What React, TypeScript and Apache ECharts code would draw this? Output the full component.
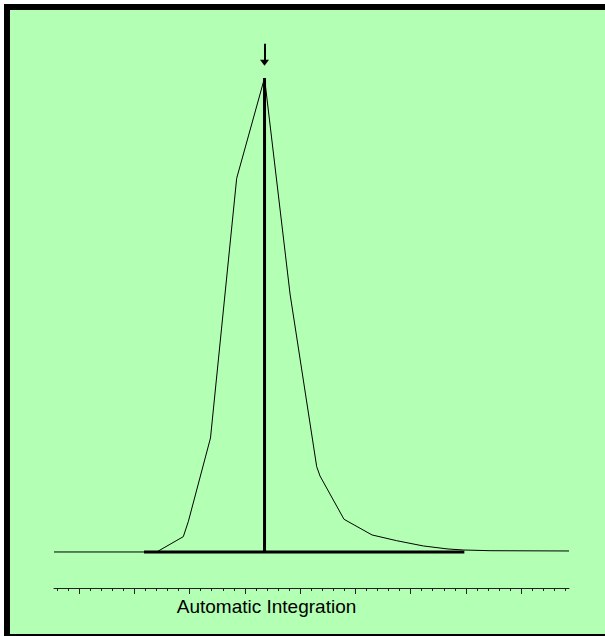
import React, { useEffect, useRef } from "react";
import * as echarts from "echarts";

// x in minor-tick units, y in detector signal units (baseline = 0, apex = 100)
const X_MIN = -0.27;
const X_MAX = 46.33;
const Y_MIN = -7.6;
const Y_MAX = 110;

const signalX = [-0.27, 9.02, 11.43, 11.88, 13.89, 16.26, 18.78, 21.09, 23.5, 23.8, 25.97, 28.51, 30.74, 33.15, 35.38, 36.77, 39.19, 46.33];
const signalY = [0, 0, 3.23, 6.39, 24.05, 78.84, 100, 54.43, 18.0, 16.03, 6.9, 3.59, 2.38, 1.27, 0.63, 0.42, 0.27, 0.21];

const baselineX = [7.87, 36.86];
const baselineY = [0, 0];

const peakX = 18.78;
const peakY = [0, 100];
const arrowY = [107.2, 103.2];

const MINOR_TICK_COUNT = 46;
const MAJOR_TICK_COUNT = 8;

const label = "Automatic Integration";

export default function App() {
  const ref = useRef<HTMLDivElement>(null);

  useEffect(() => {
    if (!ref.current) return;
    const chart = echarts.init(ref.current, undefined, { renderer: "svg" });
    const ink = "#000";
    const axisInk = "#222";

    chart.setOption({
      animation: false,
      backgroundColor: "#ffffff",
      graphic: [
        { type: "rect", z: -10, silent: true, shape: { x: 4, y: 4, width: 640, height: 632 }, style: { fill: "#000" } },
        { type: "rect", z: -9, silent: true, shape: { x: 10, y: 10, width: 640, height: 624 }, style: { fill: "#b3ffb3" } },
        {
          type: "text",
          x: 266.5,
          y: 606,
          silent: true,
          style: {
            text: label,
            fill: "#000",
            font: "19px 'Liberation Sans', Arial, sans-serif",
            textAlign: "center",
            textVerticalAlign: "middle",
          },
        },
      ],
      grid: [
        { left: 54, right: 36, top: 30.6, bottom: 48 },
        { left: 57, right: 605 - 565.3, top: 500, bottom: 48 },
        { left: 79.1, right: 605 - 521.1, top: 500, bottom: 48 },
      ],
      xAxis: [
        {
          gridIndex: 0, type: "value", min: X_MIN, max: X_MAX, position: "bottom",
          axisLine: { show: true, onZero: false, lineStyle: { color: axisInk, width: 1 } },
          axisTick: { show: false }, axisLabel: { show: false }, splitLine: { show: false },
        },
        {
          gridIndex: 1, type: "value", min: 0, max: MINOR_TICK_COUNT, interval: 1,
          axisLine: { show: false, onZero: false },
          axisTick: { show: true, length: 3, lineStyle: { color: axisInk, width: 1 } },
          axisLabel: { show: false }, splitLine: { show: false },
        },
        {
          gridIndex: 2, type: "value", min: 0, max: MAJOR_TICK_COUNT, interval: 1,
          axisLine: { show: false, onZero: false },
          axisTick: { show: true, length: 6, lineStyle: { color: axisInk, width: 1 } },
          axisLabel: { show: false }, splitLine: { show: false },
        },
      ],
      yAxis: [
        { gridIndex: 0, type: "value", min: Y_MIN, max: Y_MAX, show: false },
        { gridIndex: 1, type: "value", min: 0, max: 1, show: false },
        { gridIndex: 2, type: "value", min: 0, max: 1, show: false },
      ],
      series: [
        {
          type: "line",
          xAxisIndex: 0, yAxisIndex: 0,
          data: signalX.map((x, i) => [x, signalY[i]]),
          symbol: "none",
          silent: true,
          lineStyle: { color: ink, width: 1 },
          z: 2,
        },
        {
          type: "line",
          xAxisIndex: 0, yAxisIndex: 0,
          data: baselineX.map((x, i) => [x, baselineY[i]]),
          symbol: "none",
          silent: true,
          lineStyle: { color: ink, width: 3 },
          z: 3,
        },
        {
          type: "line",
          xAxisIndex: 0, yAxisIndex: 0,
          data: peakY.map((y) => [peakX, y]),
          symbol: "none",
          silent: true,
          lineStyle: { color: ink, width: 3 },
          z: 4,
          markLine: {
            silent: true,
            symbol: ["none", "triangle"],
            symbolSize: [9, 6],
            label: { show: false },
            lineStyle: { color: ink, width: 2, type: "solid" },
            data: [[{ coord: [peakX, arrowY[0]] }, { coord: [peakX, arrowY[1]] }]],
          },
        },
      ],
    });

    return () => chart.dispose();
  }, []);

  return (
    <div
      ref={ref}
      style={{ position: "fixed", left: 0, top: 0, width: 605, height: 636 }}
    />
  );
}
